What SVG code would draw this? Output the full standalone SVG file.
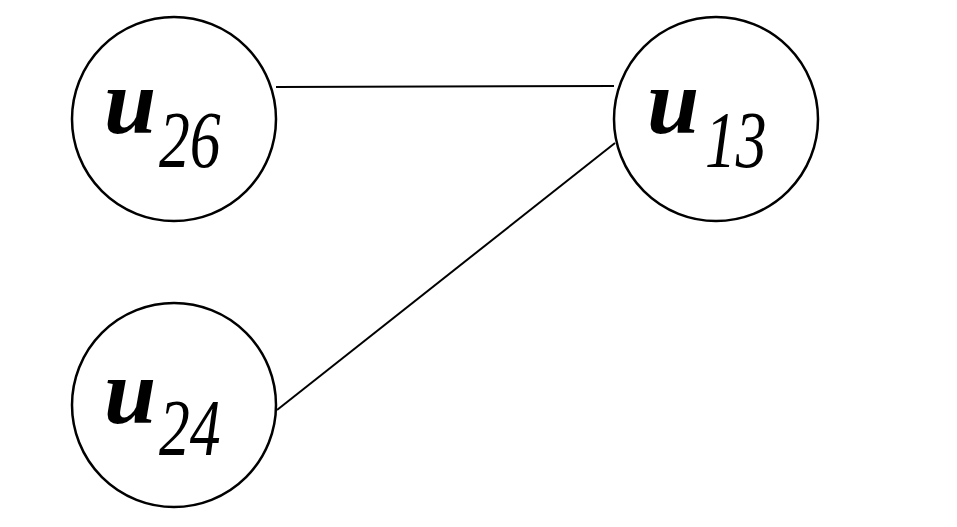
<svg xmlns="http://www.w3.org/2000/svg" width="957" height="527" viewBox="0 0 957 527">
<style>
.node{fill:#fff;stroke:#000;stroke-width:2.5}
.edge{stroke:#000;stroke-width:2;fill:none}
.v{font-family:"Liberation Serif","Times New Roman",serif;font-style:italic;font-weight:bold;font-size:94px;fill:#000}
.s{font-family:"Liberation Serif","Times New Roman",serif;font-style:italic;font-size:80px;fill:#000}
</style>
<rect width="957" height="527" fill="#fff"/>
<g id="connectors">
<line class="edge" x1="276" y1="87" x2="614" y2="86"/>
<line class="edge" x1="277" y1="410" x2="615" y2="143"/>
</g>
<g id="u26">
<circle class="node" cx="174" cy="119" r="102"/>
<text class="v" x="104" y="133">u</text>
<text class="s" transform="translate(159,167) scale(0.77,1)">26</text>
</g>
<g id="u13">
<circle class="node" cx="716" cy="119" r="102"/>
<text class="v" x="647" y="133">u</text>
<text class="s" transform="translate(705,167) scale(0.77,1)">13</text>
</g>
<g id="u24">
<circle class="node" cx="174" cy="405" r="102"/>
<text class="v" x="104" y="423">u</text>
<text class="s" transform="translate(159,455) scale(0.77,1)">24</text>
</g>
</svg>
